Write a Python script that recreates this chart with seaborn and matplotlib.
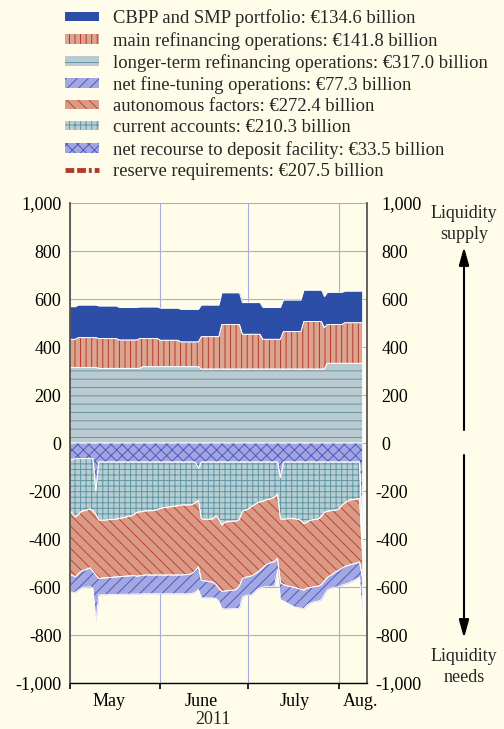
import numpy as np
import pandas as pd
import matplotlib
matplotlib.use("Agg")
import matplotlib.pyplot as plt
from matplotlib.patches import Patch, FancyArrowPatch
from matplotlib.lines import Line2D
import seaborn as sns

# ---------------- data (EUR billion, daily, 1 May - 9 Aug 2011) ----------------
dates = pd.date_range("2011-05-01", "2011-08-09", freq="D")

ltro = [315,315,315,315,315,315,315,315,315,315,
        311,311,311,311,311,311,311,311,311,311,
        311,311,311,311,311,318,318,318,318,318,
        318,318,318,318,318,318,318,318,318,318,
        318,318,318,318,318,308,308,308,308,308,
        308,308,308,308,308,308,308,308,308,308,
        308,308,308,308,308,308,308,308,308,308,
        308,308,308,308,308,308,308,308,308,308,
        308,308,308,308,308,308,308,308,332,332,
        332,332,332,332,332,332,332,332,332,332,
        332]
mro = [117,117,117,124,124,124,124,124,124,124,
       124,124,124,124,124,124,124,118,118,118,
       118,118,118,118,124,117,117,117,117,117,
       117,110,110,110,110,110,110,110,103,103,
       103,103,103,103,103,135,135,135,135,135,
       135,135,186,186,186,186,186,186,186,145,
       145,145,145,145,145,145,124,124,124,124,
       124,124,124,156,156,156,156,156,156,156,
       198,198,198,198,198,198,198,172,162,162,
       162,162,162,162,169,169,169,169,169,169,
       169]
cbpp = [136,136,136,136,136,136,136,136,136,136,
        136,136,136,136,136,136,136,136,136,136,
        136,136,136,136,132,132,132,132,132,132,
        132,134,134,134,134,134,134,134,136,136,
        136,136,136,136,136,132,132,132,132,132,
        132,132,132,132,132,132,132,132,132,132,
        132,132,132,132,132,132,133,133,133,133,
        133,133,133,132,132,132,132,132,132,132,
        131,131,131,131,131,131,131,130,134,134,
        134,134,134,134,132,132,132,132,132,132,
        132]
deposit = [72,68,65,65,65,65,65,65,65,200,
           79,79,79,79,79,79,79,79,79,79,
           79,79,79,79,79,79,79,79,79,79,
           79,79,79,79,79,79,79,79,79,79,
           79,79,79,79,106,79,79,79,79,79,
           79,79,79,79,79,79,79,79,79,79,
           79,79,79,79,79,79,79,79,79,79,
           79,79,145,79,79,79,79,79,79,79,
           79,79,79,79,79,79,79,79,79,79,
           79,79,79,79,79,79,79,79,79,79,
           400]
current = [210,225,243,233,220,217,214,209,219,98,
           242,242,242,241,240,239,238,236,233,230,
           227,225,218,210,208,206,204,203,203,202,
           198,193,191,189,187,186,184,182,180,179,
           179,179,177,169,132,236,239,239,238,237,
           225,239,263,251,249,247,247,246,239,205,
           201,196,187,179,171,166,163,159,156,152,
           146,133,171,239,237,236,236,237,239,243,
           257,251,243,241,239,237,226,209,206,203,
           202,200,196,179,171,163,158,156,155,152,
           70]
autonomous = [264,259,249,247,249,248,246,246,251,252,
              243,242,241,241,241,241,241,242,244,246,
              248,249,256,266,266,266,267,268,268,269,
              273,278,280,282,284,285,287,289,291,291,
              290,289,287,284,277,257,256,258,261,264,
              286,288,277,287,287,288,287,285,277,282,
              280,282,288,290,290,285,278,270,267,266,
              269,268,266,272,278,282,285,286,288,288,
              277,275,281,280,280,280,285,287,275,270,
              264,256,255,264,265,268,269,268,266,265,
              90]
finetuning = [74,70,65,67,71,70,75,78,70,195,
              69,69,70,71,71,72,73,73,74,75,
              76,76,76,74,76,77,78,78,78,78,
              78,78,78,78,78,78,78,78,78,79,
              80,81,83,88,95,73,71,69,67,65,
              58,54,71,74,76,77,77,80,93,76,
              75,76,79,74,70,74,80,90,95,100,
              102,50,70,68,70,75,78,82,80,78,
              76,70,65,63,62,62,62,55,52,54,
              57,65,68,70,73,75,72,69,65,62,
              180]

labels = ["CBPP and SMP portfolio: €134.6 billion",
          "main refinancing operations: €141.8 billion",
          "longer-term refinancing operations: €317.0 billion",
          "net fine-tuning operations: €77.3 billion",
          "autonomous factors: €272.4 billion",
          "current accounts: €210.3 billion",
          "net recourse to deposit facility: €33.5 billion",
          "reserve requirements: €207.5 billion"]
yticks = [-1000, -800, -600, -400, -200, 0, 200, 400, 600, 800, 1000]
month_labels = ["May", "June", "July", "Aug."]
month_label_pos = ["2011-05-14 14:00", "2011-06-15 00:00", "2011-07-16 19:00", "2011-08-08 07:00"]
month_starts = ["2011-05-01", "2011-06-01", "2011-07-01", "2011-08-01"]

# ---------------- style ----------------
sns.set_theme(style="white")
plt.rcParams["font.family"] = ["Liberation Serif", "DejaVu Serif"]
plt.rcParams["hatch.linewidth"] = 0.7
BG = "#FFFDE9"
GRID = "#A9ABDF"

c_cbpp = ("#2C4EA6", None, None)
c_mro = ("#DCA48F", "#B5392C", "|||")
c_ltro = ("#B9CBD0", "#6596A3", "--")
c_ft = ("#A4A8E2", "#4A5BC0", "///")
c_aut = ("#DA9A85", "#C0443A", "\\\\\\")
c_cur = ("#B7CED4", "#5F97A3", "+++")
c_dep = ("#A2A5E0", "#4A5BC0", "xxx")
c_res = "#B5392C"

fig = plt.figure(figsize=(5.04, 7.29), dpi=100, facecolor=BG)
ax = fig.add_axes([69.5 / 504, 46 / 729, 297 / 504, 480 / 729])
ax.set_facecolor(BG)
ax.set_axisbelow(True)


def layered_stack(series, styles):
    ax.stackplot(dates, *series, colors=[s[0] for s in styles], linewidth=0)
    hatches = ax.stackplot(dates, *series, colors=["none"] * len(series), linewidth=0)
    for coll, s in zip(hatches, styles):
        if s[2] is None:
            coll.set_visible(False)
        else:
            coll.set_facecolor("none")
            coll.set_edgecolor(s[1])
            coll.set_hatch(s[2])
            coll.set_linewidth(0)
    edges = ax.stackplot(dates, *series, colors=["none"] * len(series))
    for coll in edges:
        coll.set_facecolor("none")
        coll.set_edgecolor("white")
        coll.set_linewidth(0.6)


layered_stack([np.array(ltro), np.array(mro), np.array(cbpp)], [c_ltro, c_mro, c_cbpp])
layered_stack([-np.array(deposit), -np.array(current), -np.array(autonomous), -np.array(finetuning)],
              [c_dep, c_cur, c_aut, c_ft])

# axes
ax.set_ylim(-1000, 1000)
ax.set_xlim(pd.Timestamp("2011-05-01"), pd.Timestamp("2011-08-10 09:00"))
ax.set_yticks(yticks)
ax.set_yticklabels([f"{v:,}" for v in yticks], fontsize=13)
ax.tick_params(axis="y", left=False, right=False, length=0, pad=5.8, colors="black")
ax.grid(True, axis="both", color=GRID, linewidth=0.8)

ax.set_xticks([pd.Timestamp(d) for d in month_starts])
ax.set_xticklabels([])
ax.set_xticks([pd.Timestamp(d) for d in month_label_pos], minor=True)
ax.set_xticklabels(month_labels, minor=True, fontsize=13)
ax.tick_params(axis="x", which="major", bottom=True, direction="out", length=4, width=1.2, color="black")
ax.tick_params(axis="x", which="minor", bottom=True, length=0, pad=7, colors="black")

for side in ["left", "right"]:
    ax.spines[side].set_visible(True)
    ax.spines[side].set_color("#555555")
    ax.spines[side].set_linewidth(1.3)
ax.spines["top"].set_visible(False)
ax.spines["bottom"].set_color("black")
ax.spines["bottom"].set_linewidth(1.0)

# right-hand labels
for v in yticks:
    off = 10.8 if v >= 0 else 6.5
    ax.annotate(f"{v:,}", xy=(1, v), xycoords=("axes fraction", "data"),
                xytext=(off, 0), textcoords="offset points",
                ha="left", va="center_baseline", fontsize=13, color="black", annotation_clip=False)

fig.text(213.5 / 504, 1 - 719 / 729, "2011", ha="center", va="center", fontsize=13)

# legend
handles = []
for s in [c_cbpp, c_mro, c_ltro, c_ft, c_aut, c_cur, c_dep]:
    if s[2] is None:
        handles.append(Patch(facecolor=s[0], edgecolor=s[0], linewidth=0))
    else:
        handles.append(Patch(facecolor=s[0], edgecolor=s[1], hatch=s[2], linewidth=0))
handles.append(Line2D([], [], color=c_res, linewidth=3.5, dashes=(1.8, 0.6, 1.8, 0.6, 0.6, 0.6)))
fig.legend(handles, labels, loc="upper left", bbox_to_anchor=(65 / 504, 1 - 9.5 / 729),
           frameon=False, fontsize=13.4, handlelength=1.8, handleheight=0.4,
           handletextpad=0.8, labelspacing=0.23, borderpad=0, borderaxespad=0)

# liquidity arrows and texts
fx = 464 / 504
fig.add_artist(FancyArrowPatch((fx, 1 - 430 / 729), (fx, 1 - 247 / 729), transform=fig.transFigure,
                               arrowstyle="-|>,head_length=0.9,head_width=0.25", mutation_scale=12,
                               linewidth=1.5, color="black", shrinkA=0, shrinkB=0))
fig.add_artist(FancyArrowPatch((fx, 1 - 455 / 729), (fx, 1 - 638 / 729), transform=fig.transFigure,
                               arrowstyle="-|>,head_length=0.9,head_width=0.25", mutation_scale=12,
                               linewidth=1.5, color="black", shrinkA=0, shrinkB=0))
fig.text(fx, 1 - 205 / 729, "Liquidity\nsupply", ha="center", va="top", fontsize=13, linespacing=1.3)
fig.text(fx, 1 - 648 / 729, "Liquidity\nneeds", ha="center", va="top", fontsize=13, linespacing=1.3)

fig.savefig("out.png", dpi=100, facecolor=BG)
